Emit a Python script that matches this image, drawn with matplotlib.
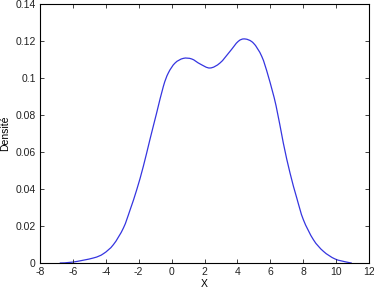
import numpy as np
import matplotlib
matplotlib.use("Agg")
import matplotlib.pyplot as plt
from matplotlib.path import Path
from matplotlib.patches import PathPatch

# density curve
x_vals = [-6.8, -6.0, -4.76, -4.15, -3.54, -2.93, -2.52, -2.12, -1.72, -1.31,
          -0.91, -0.50, -0.20, 0.21, 0.71, 1.22, 1.73, 2.33, 2.94, 3.55,
          4.05, 4.46, 4.97, 5.48, 5.88, 6.35, 6.79, 7.20, 7.61, 8.01,
          8.62, 9.23, 9.93, 10.64, 10.95]
dens = [0.0, 0.0005, 0.0027, 0.005, 0.0099, 0.0189, 0.0288, 0.0396, 0.0522, 0.0670,
        0.0811, 0.0955, 0.1027, 0.1081, 0.1106, 0.1103, 0.1076, 0.1054, 0.1081, 0.1144,
        0.1198, 0.1211, 0.1189, 0.1117, 0.1009, 0.0850, 0.0649, 0.0486, 0.0351, 0.0234,
        0.0126, 0.0063, 0.0022, 0.0005, 0.0]

x_ticks = [-8, -6, -4, -2, 0, 2, 4, 6, 8, 10, 12]
y_ticks = [0, 0.02, 0.04, 0.06, 0.08, 0.1, 0.12, 0.14]
y_labels = ["0", "0.02", "0.04", "0.06", "0.08", "0.1", "0.12", "0.14"]


def smooth_path(xs, ys):
    # Catmull-Rom through the read points, drawn as cubic Bezier segments
    pts = np.column_stack([xs, ys])
    verts = [pts[0]]
    codes = [Path.MOVETO]
    n = len(pts)
    for i in range(n - 1):
        p0 = pts[max(i - 1, 0)]
        p1 = pts[i]
        p2 = pts[i + 1]
        p3 = pts[min(i + 2, n - 1)]
        verts += [p1 + (p2 - p0) / 6, p2 - (p3 - p1) / 6, p2]
        codes += [Path.CURVE4] * 3
    return Path(verts, codes)


plt.rcParams['font.family'] = ['Liberation Sans', 'DejaVu Sans']

fig = plt.figure(figsize=(3.74, 2.89), dpi=100)
ax = fig.add_axes([40/374, 1 - 263/289, 329/374, 259/289])

ax.add_patch(PathPatch(smooth_path(x_vals, dens), facecolor='none',
                       edgecolor='#3535e0', lw=0.9))

ax.set_xlim(-8, 12)
ax.set_ylim(0, 0.14)
ax.set_xticks(x_ticks)
ax.set_xticklabels([str(t) for t in x_ticks])
ax.set_yticks(y_ticks)
ax.set_yticklabels(y_labels)
ax.tick_params(direction='in', top=True, right=True, labelsize=7.5,
               length=3, width=0.6, colors='#222222', pad=3)
for s in ax.spines.values():
    s.set_linewidth(0.8)
ax.set_xlabel("X", fontsize=7.5, labelpad=1)
ax.set_ylabel("Densité", fontsize=7.5, labelpad=4)

fig.savefig("out.png", dpi=100)
